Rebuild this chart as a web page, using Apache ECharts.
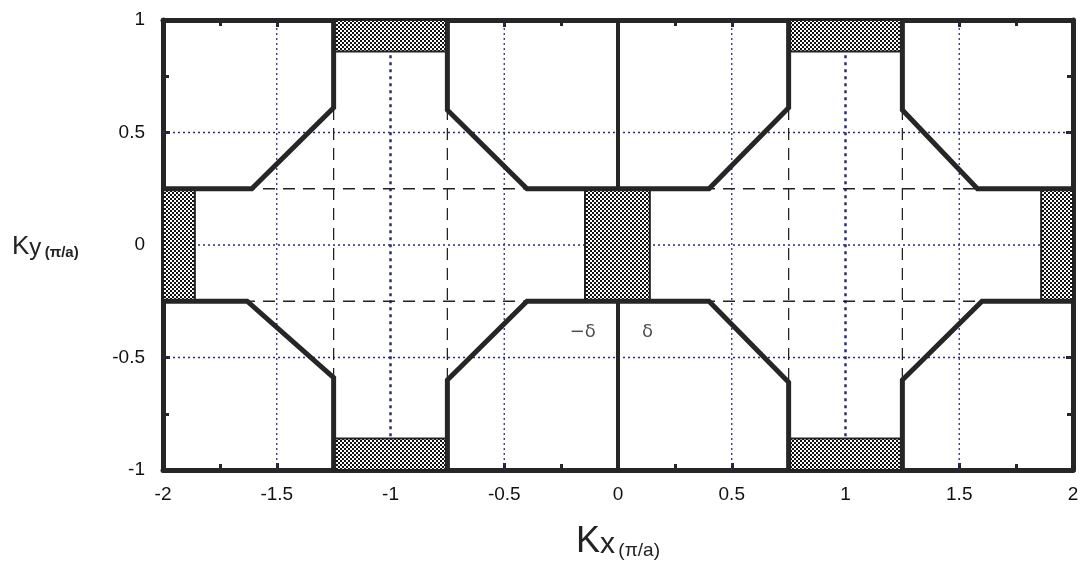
<!DOCTYPE html>
<html>
<head>
<meta charset="utf-8">
<script src="https://cdn.jsdelivr.net/npm/echarts@6/dist/echarts.min.js"></script>
<style>html,body{margin:0;padding:0;background:#fff}#c{width:1089px;height:572px}</style>
</head>
<body>
<div id="c"></div>
<script>
// ---- data ----
const xTicks = [-2, -1.5, -1, -0.5, 0, 0.5, 1, 1.5, 2];
const yTicks = [-1, -0.5, 0, 0.5, 1];
// thick contour polylines [kx, ky]
const contourUL = [[-2,0.25],[-1.61,0.25],[-1.25,0.61],[-1.25,1]];
const contourUM = [[-0.75,1],[-0.75,0.6],[-0.4,0.25],[0.4,0.25],[0.75,0.61],[0.75,1]];
const contourUR = [[1.25,1],[1.25,0.6],[1.58,0.25],[2,0.25]];
const contourLL = [[-2,-0.25],[-1.63,-0.25],[-1.25,-0.59],[-1.25,-1]];
const contourLM = [[-0.75,-1],[-0.75,-0.6],[-0.4,-0.25],[0.4,-0.25],[0.75,-0.61],[0.75,-1]];
const contourLR = [[1.25,-1],[1.25,-0.6],[1.6,-0.25],[2,-0.25]];
const centerTop = [[0,1],[0,0.25]];
const centerBot = [[0,-0.25],[0,-1]];
// hatched rectangles [x0, x1, y0, y1]
const hatched = [
  [-1.25,-0.75,0.86,1],[0.75,1.25,0.86,1],
  [-1.25,-0.75,-1,-0.86],[0.75,1.25,-1,-0.86],
  [-2,-1.86,-0.25,0.25],[1.86,2,-0.25,0.25],
  [-0.145,0.14,-0.25,0.25]
];
// black dashed guide lines
const dashH = [[[-2,0.25],[2,0.25]],[[-2,-0.25],[2,-0.25]]];
const dashV = [[[-1.25,-0.6],[-1.25,0.6]],[[-0.75,-0.6],[-0.75,0.6]],[[0.75,-0.6],[0.75,0.6]],[[1.25,-0.6],[1.25,0.6]]];
// blue dotted grid lines
const gridThin = [
  [[-1.5,-1],[-1.5,1]],[[-0.5,-1],[-0.5,1]],[[0.5,-1],[0.5,1]],[[1.5,-1],[1.5,1]],
  [[-2,0.5],[2,0.5]],[[-2,0],[2,0]],[[-2,-0.5],[2,-0.5]]
];
const gridThick = [[[-1,-0.85],[-1,0.85]],[[1,-0.85],[1,0.85]]];
// annotations
const notes = [[-0.155,-0.39,'−δ'],[0.13,-0.39,'δ']];

// ---- pattern ----
const pc = document.createElement('canvas');
pc.width = 4; pc.height = 4;
const g = pc.getContext('2d');
g.fillStyle = '#fff'; g.fillRect(0,0,4,4);
g.fillStyle = '#111'; g.fillRect(0,0,2,2); g.fillRect(2,2,2,2);
const pattern = {image: pc, repeat: 'repeat'};

const DARK = '#262626';
const BLUE = '#2c2c7c';

function lineSeries(data, style, z) {
  return {type:'line', data: data, symbol:'none', silent:true, animation:false, z: z,
    lineStyle: style, xAxisIndex:0, yAxisIndex:0};
}
const series = [];
gridThin.forEach(d => series.push(lineSeries(d, {color:BLUE, width:1.3, type:[2,3]}, 1)));
gridThick.forEach(d => series.push(lineSeries(d, {color:BLUE, width:2.5, type:[3,4]}, 1)));
dashH.concat(dashV).forEach(d => series.push(lineSeries(d, {color:'#222', width:1.3, type:[12,8]}, 2)));
series.push({
  type:'custom', z:3, silent:true, animation:false,
  data: hatched,
  encode: {x:[0,1], y:[2,3]},
  renderItem: function(params, api) {
    const p0 = api.coord([api.value(0), api.value(3)]);
    const p1 = api.coord([api.value(1), api.value(2)]);
    return {type:'rect', shape:{x:p0[0], y:p0[1], width:p1[0]-p0[0], height:p1[1]-p0[1]},
      style:{fill: pattern, stroke:'#222', lineWidth:2}};
  }
});
[contourUL, contourUM, contourUR, contourLL, contourLM, contourLR].forEach(d =>
  series.push(lineSeries(d, {color:DARK, width:5, join:'miter'}, 4)));
[centerTop, centerBot].forEach(d => series.push(lineSeries(d, {color:DARK, width:4}, 4)));
series.push({
  type:'scatter', symbolSize:0, silent:true, animation:false, z:5,
  data: notes.map(n => ({value:[n[0], n[1]], name:n[2]})),
  label: {show:true, position:'inside', formatter: p => p.name, fontSize:18,
    fontFamily:'DejaVu Sans', color:'#222'}
});

const axisCommon = {
  min:-2, max:2, interval:0.5,
  axisLine:{show:true, onZero:false, lineStyle:{color:DARK, width:5}},
  axisTick:{show:true, inside:true, length:7, lineStyle:{color:DARK, width:3}},
  minorTick:{show:true, splitNumber:2, length:6, lineStyle:{color:DARK, width:3}},
  splitLine:{show:false}
};
const chart = echarts.init(document.getElementById('c'), null, {renderer:'canvas'});
chart.setOption({
  animation:false,
  backgroundColor:'#fff',
  grid:{left:163, right:16, top:20, bottom:102, containLabel:false},
  xAxis:[
    Object.assign({}, axisCommon, {type:'value', position:'bottom',
      axisLabel:{show:true, fontSize:19, color:'#111', margin:15, fontFamily:'Liberation Sans'}}),
    Object.assign({}, axisCommon, {type:'value', position:'top', axisLabel:{show:false}})
  ],
  yAxis:[
    Object.assign({}, axisCommon, {type:'value', min:-1, max:1, interval:0.5, position:'left',
      axisLabel:{show:true, fontSize:19, color:'#111', margin:18, fontFamily:'Liberation Sans'}}),
    Object.assign({}, axisCommon, {type:'value', min:-1, max:1, interval:0.5, position:'right', axisLabel:{show:false}})
  ],
  graphic:[
    {type:'text', left:12, top:234, style:{
      text:'{k|K}{s|y} {p|(π/a)}',
      rich:{k:{fontSize:26, fontFamily:'Liberation Sans', fill:'#222', verticalAlign:'bottom'},
            s:{fontSize:24, fontFamily:'Liberation Sans', fill:'#222', verticalAlign:'bottom'},
            p:{fontSize:15, fontWeight:'bold', fontFamily:'Liberation Sans', fill:'#222', verticalAlign:'bottom'}}}},
    {type:'text', left:576, top:524, style:{
      text:'{k|K}{s|x} {p|(π/a)}',
      rich:{k:{fontSize:36, fontFamily:'Liberation Sans', fill:'#222', verticalAlign:'bottom'},
            s:{fontSize:30, fontFamily:'Liberation Sans', fill:'#222', verticalAlign:'bottom'},
            p:{fontSize:19, fontFamily:'Liberation Sans', fill:'#222', verticalAlign:'bottom'}}}}
  ],
  series: series
});
</script>
</body>
</html>
